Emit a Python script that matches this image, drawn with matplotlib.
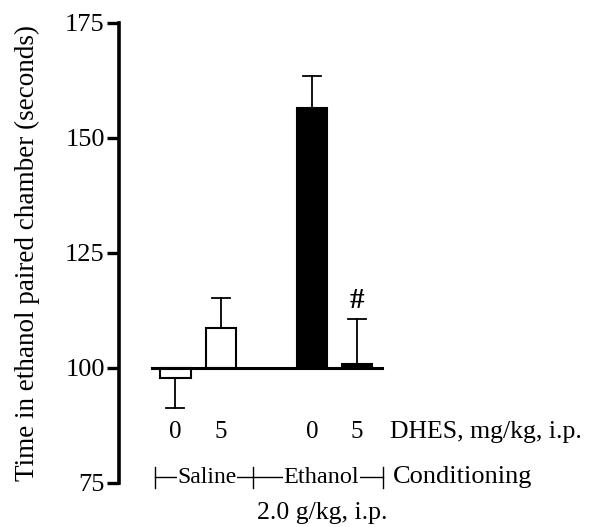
import matplotlib
matplotlib.use("Agg")
import matplotlib.pyplot as plt

plt.rcParams["font.family"] = ["Liberation Serif", "DejaVu Serif"]

# data
dhes_dose = ["0", "5", "0", "5"]
positions = [0, 1, 3, 4]
means = [97.7, 108.7, 156.5, 100.8]
sems = [6.5, 6.4, 6.9, 9.8]
colors = ["white", "white", "black", "black"]
baseline = 100

fig = plt.figure(figsize=(5.93, 5.27), dpi=100)
ax = fig.add_axes([0.200, 0.084, 0.449, 0.873])

heights = [m - baseline for m in means]
ax.bar(positions, heights, bottom=baseline, width=0.67, color=colors,
       edgecolor="black", linewidth=1.5, zorder=3)

# one-sided error bars, pointing away from baseline
for x, m, e in zip(positions, means, sems):
    sign = 1 if m >= baseline else -1
    ax.plot([x, x], [m, m + sign * e], color="black", lw=1.3, zorder=2)
    ax.plot([x - 0.2, x + 0.2], [m + sign * e] * 2, color="black", lw=1.3, zorder=2)

ax.plot([-0.52, 4.54], [baseline, baseline], color="black", lw=2.2, zorder=4)

ax.text(4, means[3] + sems[3] + 1.0, "#", ha="center", va="bottom",
        fontsize=21, fontweight="bold")

ax.set_xlim(-1.246, 4.607)
ax.set_ylim(75, 175)
ax.set_yticks([75, 100, 125, 150, 175])
ax.set_xticks([])
for s in ["top", "right", "bottom"]:
    ax.spines[s].set_visible(False)
ax.spines["left"].set_linewidth(2.6)
ax.tick_params(axis="y", length=9, width=2.4, labelsize=19, pad=1)
ax.set_ylabel("Time in ethanol paired chamber (seconds)", fontsize=19.5, labelpad=18)

# dose labels
for x, d in zip(positions, dhes_dose):
    ax.text(x, 86, d, ha="center", va="center", fontsize=18, clip_on=False)
ax.text(4.73, 86, "DHES, mg/kg, i.p.", ha="left", va="center", fontsize=18.5, clip_on=False)

# conditioning bracket
yb = 76.2
ax.plot([-0.45, 4.56], [yb, yb], color="black", lw=1.0, clip_on=False, zorder=1)
for xt in [-0.45, 1.70, 4.56]:
    ax.plot([xt, xt], [yb - 2.3, yb + 2.3], color="black", lw=1.0, clip_on=False)
ax.text(0.69, yb, "Saline", ha="center", va="center", fontsize=17, clip_on=False,
        bbox=dict(facecolor="white", edgecolor="none", pad=0.3), zorder=5)
ax.text(3.21, yb, "Ethanol", ha="center", va="center", fontsize=17.5, clip_on=False,
        bbox=dict(facecolor="white", edgecolor="none", pad=0.3), zorder=5)
ax.text(4.78, yb, "Conditioning", ha="left", va="center", fontsize=19, clip_on=False)
ax.text(3.22, 68.4, "2.0 g/kg, i.p.", ha="center", va="center", fontsize=18.5, clip_on=False)

fig.savefig("out.png", dpi=100)
